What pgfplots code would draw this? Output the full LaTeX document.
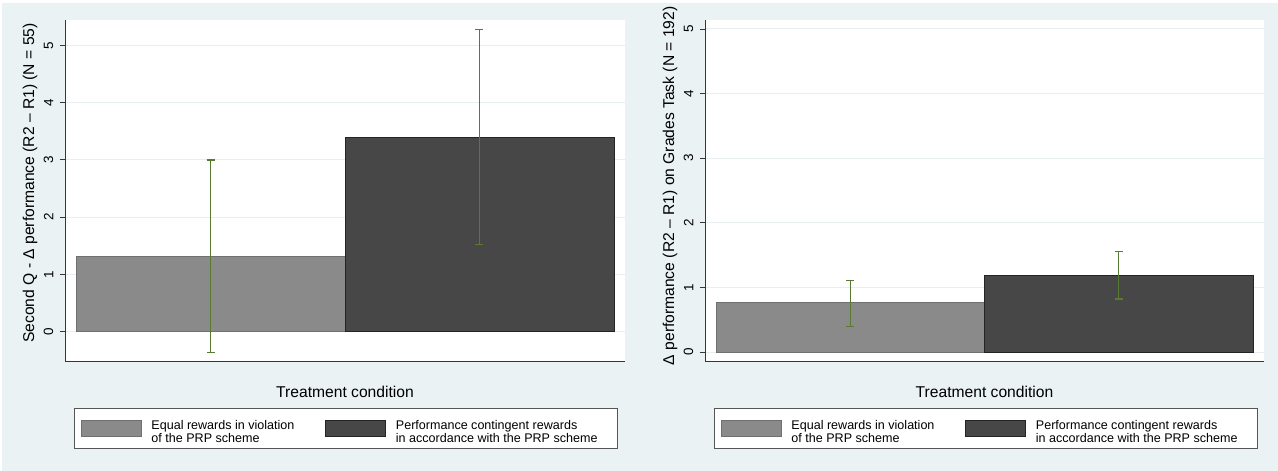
\documentclass[border=0pt]{standalone}
\usepackage{fontspec}
\setmainfont{Liberation Sans}
\usepackage{pgfplots}
\pgfplotsset{compat=1.18}
\definecolor{bg}{RGB}{234,242,243}
\definecolor{gridc}{RGB}{230,238,239}
\definecolor{barA}{RGB}{138,138,138}
\definecolor{barAedge}{RGB}{112,112,112}
\definecolor{barB}{RGB}{71,71,71}
\definecolor{barBedge}{RGB}{36,36,36}
\definecolor{errc}{RGB}{88,122,52}
\definecolor{spine}{RGB}{55,55,55}
\pgfplotsset{
  statastyle/.style={
    scale only axis,
    xmin=0.459, xmax=2.541,
    xtick=\empty,
    ytick={0,1,2,3,4,5},
    axis x line*=bottom, axis y line*=left,
    axis line style={-, draw=spine, line width=0.9bp},
    axis background/.style={fill=white},
    ymajorgrids, grid style={draw=gridc, line width=1bp},
    tick align=outside, major tick length=5.5bp,
    every tick/.style={draw=spine, line width=0.9bp},
    /pgf/number format/assume math mode=true,
    yticklabel style={xshift=-6bp, rotate=90, anchor=south, inner sep=0pt, font=\fontsize{13.5}{15}\selectfont},
    label style={font=\fontsize{15.7}{18}\selectfont},
    xlabel={Treatment condition},
    xlabel style={at={([yshift=-30.5bp]axis description cs:0.5,0)}, anchor=center, inner sep=0pt},
    legend columns=2,
    legend style={at={([xshift=9bp,yshift=-46.5bp]axis description cs:0,0)}, anchor=north west,
      draw=spine!85, line width=0.9bp, fill=white, inner xsep=7bp, inner ysep=0bp, outer sep=0pt,
      column sep=0pt,
      nodes={inner sep=0pt, anchor=west, font=\fontsize{12.6}{12.8}\selectfont}},
  },
  barAstyle/.style={ybar, bar width=1, bar shift=0pt, fill=barA, draw=barAedge, line width=0.9bp,
    legend image code/.code={\draw[fill=barA, draw=barAedge, line width=0.9bp] (0bp,-8bp) rectangle (60bp,8bp); \path[fill=none, draw=none] (0bp,-20bp) rectangle (70bp,20bp);}},
  barBstyle/.style={ybar, bar width=1, bar shift=0pt, fill=barB, draw=barBedge, line width=0.9bp,
    legend image code/.code={\draw[fill=barB, draw=barBedge, line width=0.9bp] (0bp,-8bp) rectangle (60bp,8bp); \path[fill=none, draw=none] (0bp,-20bp) rectangle (70bp,20bp);}},
  errstyle/.style={forget plot, draw=none, mark=none,
    error bars/.cd, y dir=both, y explicit, error mark=-,
    error bar style={draw=errc, solid, line width=1.2bp},
    error mark options={rotate=90, draw=errc, solid, line width=1.2bp, mark size=4bp}},
}
\newcommand{\entA}{\parbox[c]{174bp}{\raggedright Equal rewards in violation\\of the PRP scheme}}
\newcommand{\entB}{\parbox[c]{215bp}{\raggedright Performance contingent rewards\\in accordance with the PRP scheme}}
\begin{document}
\begin{tikzpicture}[x=1bp,y=1bp]
\path[use as bounding box] (0,0) rectangle (1278,-471);
\fill[white] (0,0) rectangle (1278,-471);
\fill[bg] (2,-3) rectangle (1278,-471);

\begin{axis}[statastyle,
  at={(65bp,-361.5bp)}, anchor=south west,
  width=560bp, height=341.5bp,
  ymin=-0.524, ymax=5.446,
  ylabel={Second Q - Δ performance (R2 – R1) (N = 55)},
  ylabel style={at={([xshift=-35bp,yshift=7.7bp]axis description cs:0,0.5)}, anchor=center, inner sep=0pt},
]
\addplot[barAstyle] coordinates {(1,1.31)};
\addlegendentry{\entA}
\addplot[barBstyle] coordinates {(2,3.40)};
\addlegendentry{\entB}
\addplot[errstyle] coordinates {(1,1.32) +- (0,1.68) (2,3.40) +- (0,1.88)};
\end{axis}

\begin{axis}[statastyle,
  at={(705bp,-361.5bp)}, anchor=south west,
  width=559bp, height=341.5bp,
  ymin=-0.147, ymax=5.139,
  ylabel={Δ performance (R2 – R1) on Grades Task (N = 192)},
  ylabel style={at={([xshift=-35bp,yshift=5bp]axis description cs:0,0.5)}, anchor=center, inner sep=0pt},
]
\addplot[barAstyle] coordinates {(1,0.76)};
\addlegendentry{\entA}
\addplot[barBstyle] coordinates {(2,1.19)};
\addlegendentry{\entB}
\addplot[errstyle] coordinates {(1,0.75) +- (0,0.36) (2,1.19) +- (0,0.37)};
\end{axis}
\end{tikzpicture}
\end{document}
